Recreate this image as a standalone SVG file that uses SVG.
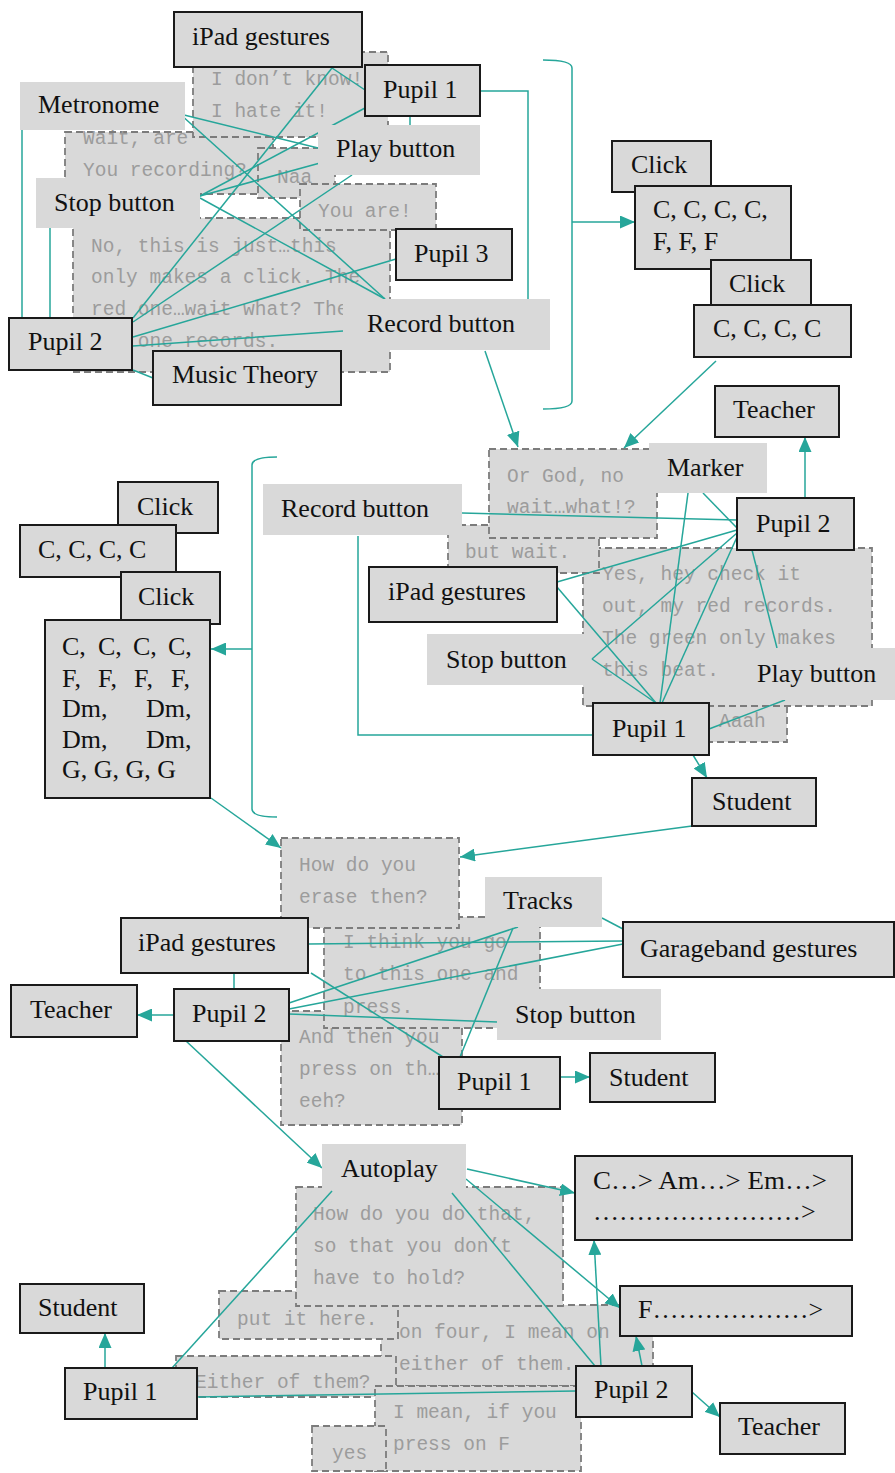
<svg xmlns="http://www.w3.org/2000/svg" width="895" height="1473" viewBox="0 0 895 1473">
<style>
.n{fill:#d9d9d9;stroke:#1a1a1a;stroke-width:2}
.b{fill:#d9d9d9}
.s{fill:#d9d9d9;stroke:#7c7c7c;stroke-width:1.8;stroke-dasharray:7 4}
.t{font-family:"Liberation Serif","Times New Roman",serif;font-size:26px;fill:#111}
.m{font-family:"Liberation Mono","Courier New",monospace;font-size:19.5px;fill:#9c9c9c}
.c{fill:none;stroke:#26a69a;stroke-width:1.5}
.a{marker-end:url(#ah)}
</style>
<defs>
<marker id="ah" viewBox="0 0 15 13" refX="15" refY="6.5" markerWidth="15" markerHeight="13" orient="auto" markerUnits="userSpaceOnUse">
<path d="M0,0 L15,6.5 L0,13 z" fill="#26a69a"/>
</marker>
</defs>
<rect width="895" height="1473" fill="#fff"/>

<!-- speech bubbles (dashed) -->
<g id="speech">
 <g id="sp-wait"><rect class="s" x="65" y="132" width="208" height="62"/><text class="m" x="83" y="144">Wait, are</text><text class="m" x="83" y="176">You recording?</text></g>
 <g id="sp-dontknow"><rect class="s" x="193" y="52" width="195" height="85"/><text class="m" x="211" y="85">I don’t know!</text><text class="m" x="211" y="117">I hate it!</text></g>
 <g id="sp-nothis"><rect class="s" x="73" y="218" width="317" height="154"/><text class="m" x="91" y="252">No, this is just…this</text><text class="m" x="91" y="283">only makes a click. The</text><text class="m" x="91" y="315">red one…wait what? The</text><text class="m" x="91" y="347">red one records.</text></g>
 <g id="sp-naa"><rect class="s" x="258" y="148" width="77" height="50"/><text class="m" x="277" y="183">Naa</text></g>
 <g id="sp-youare"><rect class="s" x="300" y="184" width="136" height="46"/><text class="m" x="318" y="217">You are!</text></g>

 <g id="sp-aaah"><rect class="s" x="700" y="705" width="87" height="37"/><text class="m" x="719" y="727">Aaah</text></g>
 <g id="sp-yes-check"><rect class="s" x="583" y="548" width="289" height="158"/><text class="m" x="602" y="580">Yes, hey check it</text><text class="m" x="602" y="612">out, my red records.</text><text class="m" x="602" y="644">The green only makes</text><text class="m" x="602" y="676">this beat.</text></g>
 <g id="sp-butwait"><rect class="s" x="448" y="525" width="151" height="48"/><text class="m" x="465" y="558">but wait.</text></g>
 <g id="sp-orgod"><rect class="s" x="489" y="449" width="168" height="89"/><text class="m" x="507" y="482">Or God, no</text><text class="m" x="507" y="513">wait…what!?</text></g>

 <g id="sp-andthen"><rect class="s" x="281" y="1011" width="181" height="114"/><text class="m" x="299" y="1043">And then you</text><text class="m" x="299" y="1075">press on th…</text><text class="m" x="299" y="1107">eeh?</text></g>
 <g id="sp-ithink"><rect class="s" x="324" y="917" width="216" height="111"/><text class="m" x="343" y="948">I think you go</text><text class="m" x="343" y="980">to this one and</text><text class="m" x="343" y="1013">press.</text></g>
 <g id="sp-erase"><rect class="s" x="281" y="838" width="178" height="90"/><text class="m" x="299" y="871">How do you</text><text class="m" x="299" y="903">erase then?</text></g>

 <g id="sp-onfour"><rect class="s" x="381" y="1305" width="272" height="81"/><text class="m" x="399" y="1338">on four, I mean on</text><text class="m" x="399" y="1370">either of them.</text></g>
 <g id="sp-puthere"><rect class="s" x="219" y="1291" width="179" height="48"/><text class="m" x="237" y="1325">put it here.</text></g>
 <g id="sp-hold"><rect class="s" x="296" y="1187" width="267" height="119"/><text class="m" x="313" y="1220">How do you do that,</text><text class="m" x="313" y="1252">so that you don’t</text><text class="m" x="313" y="1284">have to hold?</text></g>
 <g id="sp-either"><rect class="s" x="176" y="1356" width="220" height="41"/><text class="m" x="195" y="1388">Either of them?</text></g>
 <g id="sp-imean"><rect class="s" x="375" y="1386" width="206" height="85"/><text class="m" x="393" y="1418">I mean, if you</text><text class="m" x="393" y="1450">press on F</text></g>
 <g id="sp-yes"><rect class="s" x="312" y="1426" width="74" height="45"/><text class="m" x="332" y="1459">yes</text></g>
</g>

<!-- connectors -->
<g id="connectors">
 <!-- first scene -->
 <path class="c" d="M180,114 L318,148"/>
 <path class="c" d="M180,114 L385,299"/>
 <path class="c" d="M22,130 V318"/>
 <path class="c" d="M50,228 V318"/>
 <path class="c" d="M200,196 L365,108"/>
 <path class="c" d="M200,196 L320,163"/>
 <path class="c" d="M200,198 L385,299"/>
 <path class="c" d="M332,68 L365,90"/>
 <path class="c" d="M332,68 L133,318"/>
 <path class="c" d="M133,322 L352,175"/>
 <path class="c" d="M133,337 L396,259"/>
 <path class="c" d="M133,346 L343,331"/>
 <path class="c" d="M133,370 L153,378"/>
 <path class="c" d="M410,116 V125"/>
 <path class="c" d="M480,91 H528 V299"/>
 <path class="c a" d="M485,351 L518,447"/>
 <path class="c" d="M543,60 Q572,60 572,68 V401 Q572,409 543,409"/>
 <path class="c a" d="M572,222 H635"/>
 <path class="c a" d="M716,361 L624,448"/>
 <!-- second scene -->
 <path class="c a" d="M805,498 V437"/>
 <path class="c" d="M462,513 L737,520"/>
 <path class="c" d="M358,536 V735 H593"/>
 <path class="c" d="M703,493 L737,528"/>
 <path class="c" d="M688,493 L660,703"/>
 <path class="c" d="M557,582 L737,530"/>
 <path class="c" d="M557,587 L656,703"/>
 <path class="c" d="M592,659 L737,533"/>
 <path class="c" d="M592,659 L656,703"/>
 <path class="c" d="M662,703 L737,537"/>
 <path class="c" d="M752,550 L777,648"/>
 <path class="c" d="M785,700 L709,729"/>
 <path class="c a" d="M693,755 L707,778"/>
 <path class="c" d="M277,457 Q252,457 252,465 V809 Q252,817 277,817"/>
 <path class="c a" d="M252,649 H211"/>
 <path class="c a" d="M211,798 L281,848"/>
 <path class="c a" d="M692,826 L460,857"/>
 <!-- third scene -->
 <path class="c" d="M234,973 V989"/>
 <path class="c" d="M308,944 L623,941"/>
 <path class="c" d="M311,973 L443,1057"/>
 <path class="c" d="M289,1003 L518,927"/>
 <path class="c" d="M289,1009 L623,944"/>
 <path class="c" d="M289,1014 L497,1022"/>
 <path class="c" d="M513,928 L460,1057"/>
 <path class="c" d="M602,918 L623,929"/>
 <path class="c a" d="M174,1015 H137"/>
 <path class="c a" d="M560,1077 H590"/>
 <path class="c a" d="M186,1041 L322,1168"/>
 <!-- fourth scene -->
 <path class="c a" d="M467,1169 L575,1193"/>
 <path class="c a" d="M466,1179 L620,1308"/>
 <path class="c" d="M332,1191 L172,1368"/>
 <path class="c" d="M452,1193 L595,1366"/>
 <path class="c a" d="M601,1366 L594,1240"/>
 <path class="c a" d="M642,1366 L636,1336"/>
 <path class="c a" d="M692,1392 L720,1417"/>
 <path class="c" d="M197,1397 L576,1391"/>
 <path class="c a" d="M105,1368 V1333"/>
</g>

<!-- nodes -->
<g id="nodes">
 <!-- first scene -->
 <g id="ipad-1"><rect class="n" x="174" y="12" width="188" height="55"/><text class="t" x="192" y="45">iPad gestures</text></g>
 <g id="metronome-1"><rect class="b" x="20" y="82" width="165" height="48"/><text class="t" x="38" y="113">Metronome</text></g>
 <g id="stop-1"><rect class="b" x="36" y="178" width="164" height="50"/><text class="t" x="54" y="211">Stop button</text></g>
 <g id="pupil1-1"><rect class="n" x="365" y="65" width="115" height="51"/><text class="t" x="383" y="98">Pupil 1</text></g>
 <g id="play-1"><rect class="b" x="318" y="125" width="162" height="50"/><text class="t" x="336" y="157">Play button</text></g>
 <g id="pupil3-1"><rect class="n" x="396" y="229" width="116" height="51"/><text class="t" x="414" y="262">Pupil 3</text></g>
 <g id="record-1"><rect class="b" x="343" y="299" width="207" height="51"/><text class="t" x="367" y="332">Record button</text></g>
 <g id="pupil2-1"><rect class="n" x="9" y="318" width="123" height="52"/><text class="t" x="28" y="350">Pupil 2</text></g>
 <g id="theory-1"><rect class="n" x="153" y="351" width="188" height="54"/><text class="t" x="172" y="383">Music Theory</text></g>
 <g id="click-1a"><rect class="n" x="612" y="141" width="99" height="51"/><text class="t" x="631" y="173">Click</text></g>
 <g id="chords-1a"><rect class="n" x="635" y="186" width="156" height="83"/><text class="t" x="653" y="218">C, C, C, C,</text><text class="t" x="653" y="250">F, F, F</text></g>
 <g id="click-1b"><rect class="n" x="711" y="260" width="100" height="46"/><text class="t" x="729" y="292">Click</text></g>
 <g id="chords-1b"><rect class="n" x="694" y="305" width="157" height="52"/><text class="t" x="713" y="337">C, C, C, C</text></g>

 <!-- second scene -->
 <g id="teacher-2"><rect class="n" x="715" y="386" width="124" height="51"/><text class="t" x="733" y="418">Teacher</text></g>
 <g id="marker-2"><rect class="b" x="649" y="443" width="118" height="50"/><text class="t" x="667" y="476">Marker</text></g>
 <g id="pupil2-2"><rect class="n" x="737" y="498" width="117" height="52"/><text class="t" x="756" y="532">Pupil 2</text></g>
 <g id="record-2"><rect class="b" x="263" y="484" width="199" height="51"/><text class="t" x="281" y="517">Record button</text></g>
 <g id="ipad-2"><rect class="n" x="369" y="567" width="188" height="55"/><text class="t" x="388" y="600">iPad gestures</text></g>
 <g id="stop-2"><rect class="b" x="427" y="634" width="163" height="51"/><text class="t" x="446" y="668">Stop button</text></g>
 <g id="play-2"><rect class="b" x="753" y="648" width="142" height="52"/><text class="t" x="757" y="682">Play button</text></g>
 <g id="pupil1-2"><rect class="n" x="593" y="703" width="116" height="52"/><text class="t" x="612" y="737">Pupil 1</text></g>
 <g id="student-2"><rect class="n" x="692" y="778" width="124" height="48"/><text class="t" x="712" y="810">Student</text></g>
 <g id="click-2a"><rect class="n" x="118" y="482" width="100" height="51"/><text class="t" x="137" y="515">Click</text></g>
 <g id="chords-2a"><rect class="n" x="20" y="525" width="156" height="52"/><text class="t" x="38" y="558">C, C, C, C</text></g>
 <g id="click-2b"><rect class="n" x="121" y="572" width="99" height="52"/><text class="t" x="138" y="605">Click</text></g>
 <g id="chords-2b"><rect class="n" x="45" y="620" width="165" height="178"/>
  <text class="t" y="655"><tspan x="62">C,</tspan><tspan x="98">C,</tspan><tspan x="133">C,</tspan><tspan x="168">C,</tspan></text>
  <text class="t" y="687"><tspan x="62">F,</tspan><tspan x="98">F,</tspan><tspan x="134">F,</tspan><tspan x="171">F,</tspan></text>
  <text class="t" y="717"><tspan x="62">Dm,</tspan><tspan x="146">Dm,</tspan></text>
  <text class="t" y="748"><tspan x="62">Dm,</tspan><tspan x="146">Dm,</tspan></text>
  <text class="t" x="62" y="778">G, G, G, G</text>
 </g>

 <!-- third scene -->
 <g id="tracks-3"><rect class="b" x="485" y="877" width="117" height="50"/><text class="t" x="503" y="909">Tracks</text></g>
 <g id="ipad-3"><rect class="n" x="121" y="918" width="187" height="55"/><text class="t" x="138" y="951">iPad gestures</text></g>
 <g id="garageband-3"><rect class="n" x="623" y="922" width="271" height="55"/><text class="t" x="640" y="957">Garageband gestures</text></g>
 <g id="teacher-3"><rect class="n" x="11" y="985" width="126" height="52"/><text class="t" x="30" y="1018">Teacher</text></g>
 <g id="pupil2-3"><rect class="n" x="174" y="989" width="115" height="52"/><text class="t" x="192" y="1022">Pupil 2</text></g>
 <g id="stop-3"><rect class="b" x="497" y="989" width="164" height="51"/><text class="t" x="515" y="1023">Stop button</text></g>
 <g id="pupil1-3"><rect class="n" x="439" y="1057" width="121" height="52"/><text class="t" x="457" y="1090">Pupil 1</text></g>
 <g id="student-3"><rect class="n" x="590" y="1053" width="125" height="49"/><text class="t" x="609" y="1086">Student</text></g>

 <!-- fourth scene -->
 <g id="autoplay-4"><rect class="b" x="322" y="1144" width="144" height="46"/><text class="t" x="341" y="1177">Autoplay</text></g>
 <g id="seq-4a"><rect class="n" x="575" y="1156" width="277" height="84"/><text class="t" x="593" y="1189" textLength="234" lengthAdjust="spacingAndGlyphs">C…&gt; Am…&gt; Em…&gt;</text><text class="t" x="593" y="1220">……………………&gt;</text></g>
 <g id="seq-4b"><rect class="n" x="620" y="1286" width="232" height="50"/><text class="t" x="638" y="1318">F………………&gt;</text></g>
 <g id="student-4"><rect class="n" x="20" y="1284" width="124" height="49"/><text class="t" x="38" y="1316">Student</text></g>
 <g id="pupil1-4"><rect class="n" x="65" y="1368" width="132" height="51"/><text class="t" x="83" y="1400">Pupil 1</text></g>
 <g id="pupil2-4"><rect class="n" x="576" y="1366" width="116" height="51"/><text class="t" x="594" y="1398">Pupil 2</text></g>
 <g id="teacher-4"><rect class="n" x="720" y="1403" width="125" height="51"/><text class="t" x="738" y="1435">Teacher</text></g>
</g>
</svg>
